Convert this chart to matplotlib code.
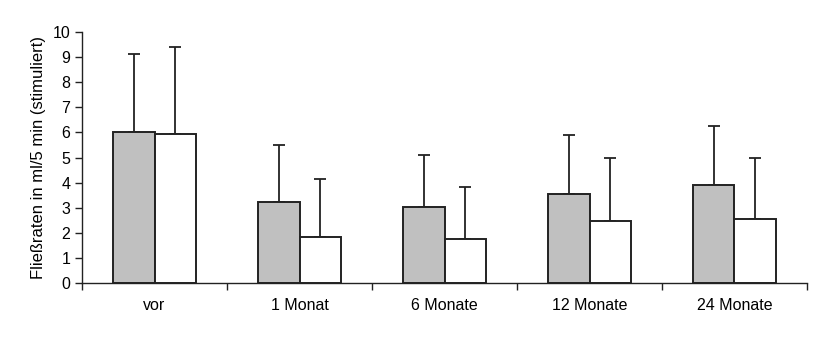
import numpy as np
import matplotlib
matplotlib.use("Agg")
import matplotlib.pyplot as plt

categories = ["vor", "1 Monat", "6 Monate", "12 Monate", "24 Monate"]
grau = [6.0, 3.24, 3.04, 3.53, 3.89]
grau_oben = [9.14, 5.49, 5.10, 5.90, 6.25]
weiss = [5.94, 1.85, 1.74, 2.48, 2.55]
weiss_oben = [9.39, 4.14, 3.84, 4.98, 4.98]

plt.rcParams["font.family"] = ["Liberation Sans", "DejaVu Sans"]
plt.rcParams["font.size"] = 11.5

fig = plt.figure(figsize=(8.27, 3.41), dpi=100)
ax = fig.add_axes([0.0992, 0.170, 0.8766, 0.736])

x = np.arange(len(categories))
w = 0.286
err_g = np.array(grau_oben) - np.array(grau)
err_w = np.array(weiss_oben) - np.array(weiss)
kw = dict(edgecolor="#222222", linewidth=1.4, zorder=2)
ekw = dict(ecolor="#222222", elinewidth=1.3, capsize=4, capthick=1.3)

ax.bar(x - w / 2, grau, w, color="#c0c0c0", **kw)
ax.bar(x + w / 2, weiss, w, color="white", **kw)
ax.errorbar(x - w / 2, grau, yerr=[np.zeros(5), err_g], fmt="none", zorder=1, **ekw)
ax.errorbar(x + w / 2, weiss, yerr=[np.zeros(5), err_w], fmt="none", zorder=1, **ekw)

ax.set_xlim(-0.5, len(categories) - 0.5)
ax.set_ylim(0, 10)
ax.set_yticks(range(0, 11))
ax.set_xticks(x)
ax.set_xticklabels(categories)
ax.set_xticks(np.arange(-0.5, len(categories)), minor=True)
ax.tick_params(axis="x", which="major", length=0, pad=11)
ax.tick_params(axis="x", which="minor", length=5, width=1, color="#222222")
ax.tick_params(axis="y", length=5, width=1, color="#222222", pad=3.5)

for s in ["top", "right"]:
    ax.spines[s].set_visible(False)
for s in ["left", "bottom"]:
    ax.spines[s].set_color("#222222")
    ax.spines[s].set_linewidth(1)

ax.set_ylabel("Fließraten in ml/5 min (stimuliert)", fontsize=12, labelpad=5)

fig.savefig("out.png", dpi=100)
